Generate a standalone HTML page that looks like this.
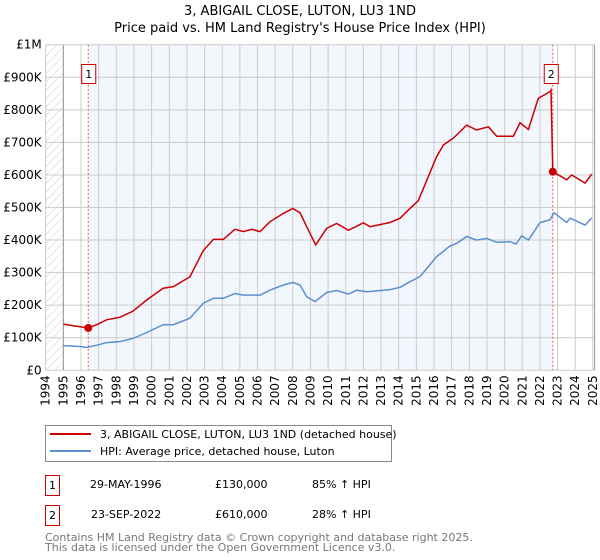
<!DOCTYPE html>
<html><head><meta charset="utf-8"><style>
body{margin:0;background:#fff;font-family:"DejaVu Sans","Liberation Sans",sans-serif;}
svg{display:block}
</style></head><body>
<svg width="600" height="560" font-family="DejaVu Sans, Liberation Sans, sans-serif">
<defs><pattern id="hatch" width="6" height="6" patternUnits="userSpaceOnUse" patternTransform="rotate(45)"><line x1="0" y1="0" x2="0" y2="6" stroke="#ccc" stroke-width="1"/></pattern></defs>
<text x="300" y="15" text-anchor="middle" font-size="13" fill="#000">3, ABIGAIL CLOSE, LUTON, LU3 1ND</text>
<text x="300" y="32" text-anchor="middle" font-size="13" fill="#000">Price paid vs. HM Land Registry's House Price Index (HPI)</text>
<g id="plot"></g>
<g>
<rect x="45.5" y="425.5" width="346" height="36" fill="#fff" stroke="#888"/>
<line x1="50" y1="434" x2="91" y2="434" stroke="#cc0000" stroke-width="2"/>
<text x="100" y="438" font-size="11">3, ABIGAIL CLOSE, LUTON, LU3 1ND (detached house)</text>
<line x1="50" y1="451" x2="91" y2="451" stroke="#5b8fd0" stroke-width="2"/>
<text x="100" y="455" font-size="11">HPI: Average price, detached house, Luton</text>
</g>
<g font-size="11">
<rect x="45.5" y="475.5" width="14" height="20" fill="#fff" stroke="#cc0000"/><text x="52.5" y="489" text-anchor="middle">1</text>
<text x="90" y="488">29-MAY-1996</text><text x="215" y="488">£130,000</text><text x="312" y="488">85% ↑ HPI</text>
<rect x="45.5" y="505.5" width="14" height="20" fill="#fff" stroke="#cc0000"/><text x="52.5" y="519" text-anchor="middle">2</text>
<text x="91" y="518">23-SEP-2022</text><text x="215" y="518">£610,000</text><text x="312" y="518">28% ↑ HPI</text>
</g>
<text x="45" y="541" font-size="11" fill="#777">Contains HM Land Registry data © Crown copyright and database right 2025.</text>
<text x="45" y="551" font-size="11" fill="#777">This data is licensed under the Open Government Licence v3.0.</text>
</svg>
<script>
const hpiYears=[1995.0,1995.94,1996.32,1996.89,1997.45,1998.21,1998.96,1999.72,2000.66,2001.23,2002.17,2002.93,2003.5,2004.06,2004.72,2005.2,2006.14,2006.7,2007.46,2008.0,2008.41,2008.79,2009.26,2009.92,2010.49,2011.15,2011.62,2012.19,2013.51,2014.08,2014.64,2015.21,2016.15,2016.91,2017.29,2017.85,2018.41,2018.99,2019.55,2020.31,2020.65,2020.97,2021.35,2022.01,2022.57,2022.8,2023.52,2023.71,2024.56,2024.94];
const hpiValues=[76,73,70,77,85,88,98,116,140,140,160,206,221,221,236,231,231,246,262,270,262,226,211,239,245,234,246,241,248,255,272,288,349,382,390,411,400,405,393,395,388,413,400,454,462,484,454,467,446,468];
const priceYears=[1995.0,1995.56,1996.41,1996.89,1997.45,1998.21,1998.96,1999.72,2000.66,2001.23,2002.17,2002.93,2003.5,2004.06,2004.72,2005.2,2005.67,2006.14,2006.7,2007.46,2008.0,2008.41,2008.79,2009.3,2009.92,2010.49,2011.15,2012.0,2012.38,2013.51,2014.08,2014.45,2015.11,2016.15,2016.53,2017.1,2017.85,2018.41,2019.08,2019.55,2020.5,2020.87,2021.35,2021.91,2022.57,2022.63,2022.73,2023.52,2023.8,2024.56,2024.94];
const priceValues=[142,137,130,140,155,163,182,216,252,257,287,368,402,402,433,426,433,426,456,482,497,484,441,385,436,451,430,453,441,454,467,487,521,656,692,713,753,738,748,719,719,760,740,835,856,861,610,585,600,575,603];
const saleYears=[1996.41,2022.73];
const saleValues=[130,610];
const saleLabels=["1","2"];
const yTickValues=[0,100,200,300,400,500,600,700,800,900,1000];
const yTickLabels=["£0","£100K","£200K","£300K","£400K","£500K","£600K","£700K","£800K","£900K","£1M"];
const xTickYears=[];for(let y=1994;y<=2025;y++)xTickYears.push(y);

const X0=45.7,PX=17.65,Y0=370.3,PY=0.3256;
const xs=y=>X0+(y-1994)*PX;
const ys=v=>Y0-v*PY;
const NS="http://www.w3.org/2000/svg";
const g=document.getElementById('plot');
function mk(t,a){const e=document.createElementNS(NS,t);for(const k in a)e.setAttribute(k,a[k]);g.appendChild(e);return e;}
const L=xs(1994),R=xs(2025.1),T=ys(1000),B=ys(0);
let e;
e=mk('rect',{x:L,y:T,width:R-L,height:B-T,fill:'#fff'});


e=mk('rect',{x:xs(saleYears[0]),y:T,width:xs(saleYears[1])-xs(saleYears[0]),height:B-T,fill:'#eef3fc',opacity:0.75});


e=mk('rect',{x:L,y:T,width:xs(1995)-L,height:B-T,fill:'url(#hatch)'});


xTickYears.forEach(y=>{
 e=mk('line',{x1:xs(y),x2:xs(y),y1:T,y2:B,stroke:'#ccc','stroke-width':1});
 
 
 e=mk('text',{x:0,y:0,'font-size':12,'text-anchor':'end',transform:`translate(${xs(y)+4},${B+5}) rotate(-90)`});
 e.textContent=y;
 
 
});
yTickValues.forEach((v,i)=>{
 e=mk('line',{x1:L,x2:R,y1:ys(v),y2:ys(v),stroke:'#ccc','stroke-width':1});
 
 
 e=mk('text',{x:L-4,y:ys(v)+4,'font-size':12,'text-anchor':'end'});
 e.textContent=yTickLabels[i];
 
 
});
e=mk('line',{x1:xs(1995),x2:xs(1995),y1:T,y2:B,stroke:'#999'});


e=mk('line',{x1:R,x2:R,y1:T,y2:B,stroke:'#999'});


saleYears.forEach((y,i)=>{
 e=mk('line',{x1:xs(y),x2:xs(y),y1:T,y2:B,stroke:'#e06060','stroke-dasharray':'2,2','stroke-width':1});
 
 
});
const pts=(xa,va)=>xa.map((y,i)=>xs(y).toFixed(1)+','+ys(va[i]).toFixed(1)).join(' ');
e=mk('polyline',{points:pts(hpiYears,hpiValues),fill:'none',stroke:'#5b8fd0','stroke-width':1.5});


e=mk('polyline',{points:pts(priceYears,priceValues),fill:'none',stroke:'#cc0000','stroke-width':1.5});


saleYears.forEach((y,i)=>{
 e=mk('circle',{cx:xs(y),cy:ys(saleValues[i]),r:4,fill:'#cc0000'});
 
 
 const bx=xs(y)-(i===0?7:9);
 e=mk('rect',{x:bx+0.5,y:64.5,width:14,height:19,fill:'#fff',stroke:'#cc0000'});
 
 
 e=mk('text',{x:bx+7.5,y:78,'font-size':11,'text-anchor':'middle'});
 e.textContent=saleLabels[i];
 
 
});
</script>
</body></html>
